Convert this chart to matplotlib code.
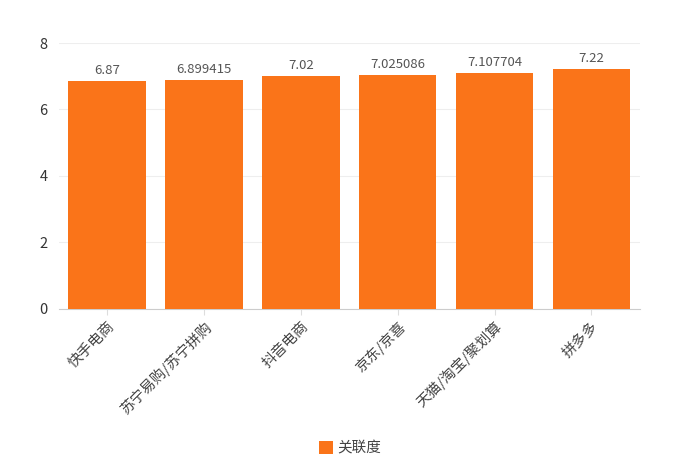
import matplotlib
matplotlib.use("Agg")
import matplotlib.pyplot as plt

plt.rcParams['font.family'] = ['Noto Sans CJK SC', 'DejaVu Sans']

categories = ["快手电商", "苏宁易购/苏宁拼购", "抖音电商", "京东/京喜", "天猫/淘宝/聚划算", "拼多多"]
values = [6.87, 6.899415, 7.02, 7.025086, 7.107704, 7.22]
labels = ["6.87", "6.899415", "7.02", "7.025086", "7.107704", "7.22"]
series_name = "关联度"
color = "#FA7419"

fig = plt.figure(figsize=(7, 4.7), dpi=100)
ax = fig.add_axes([0.084, 0.343, 0.83, 0.5655])
x = range(len(categories))
bars = ax.bar(x, values, width=0.8, color=color, label=series_name, zorder=3)
for xi, v, lab in zip(x, values, labels):
    ax.text(xi, v + 0.12, lab, ha='center', va='bottom', fontsize=9.5, color='#555555')

ax.set_xlim(-0.5, len(categories) - 0.5)
ax.set_ylim(0, 8)
ax.set_yticks([0, 2, 4, 6, 8])
ax.yaxis.grid(True, color='#EEEEEE', linewidth=0.8, zorder=0)
for s in ['top', 'right', 'left']:
    ax.spines[s].set_visible(False)
ax.spines['bottom'].set_color('#CCCCCC')
ax.tick_params(axis='y', length=0, labelsize=10.5, colors='#333333', pad=8)
ax.tick_params(axis='x', length=4, color='#DDDDDD', labelsize=10.5, labelcolor='#444444')
ax.set_xticks(list(x))
ax.set_xticklabels(categories, rotation=45, ha='right', rotation_mode='anchor')

leg = fig.legend(handles=[bars], labels=[series_name], loc='center', bbox_to_anchor=(0.5, 0.047),
                 frameon=False, fontsize=10.5, handlelength=1.0, handleheight=1.0, handletextpad=0.3)
for t in leg.get_texts():
    t.set_color('#444444')

fig.savefig("out.png", dpi=100)
